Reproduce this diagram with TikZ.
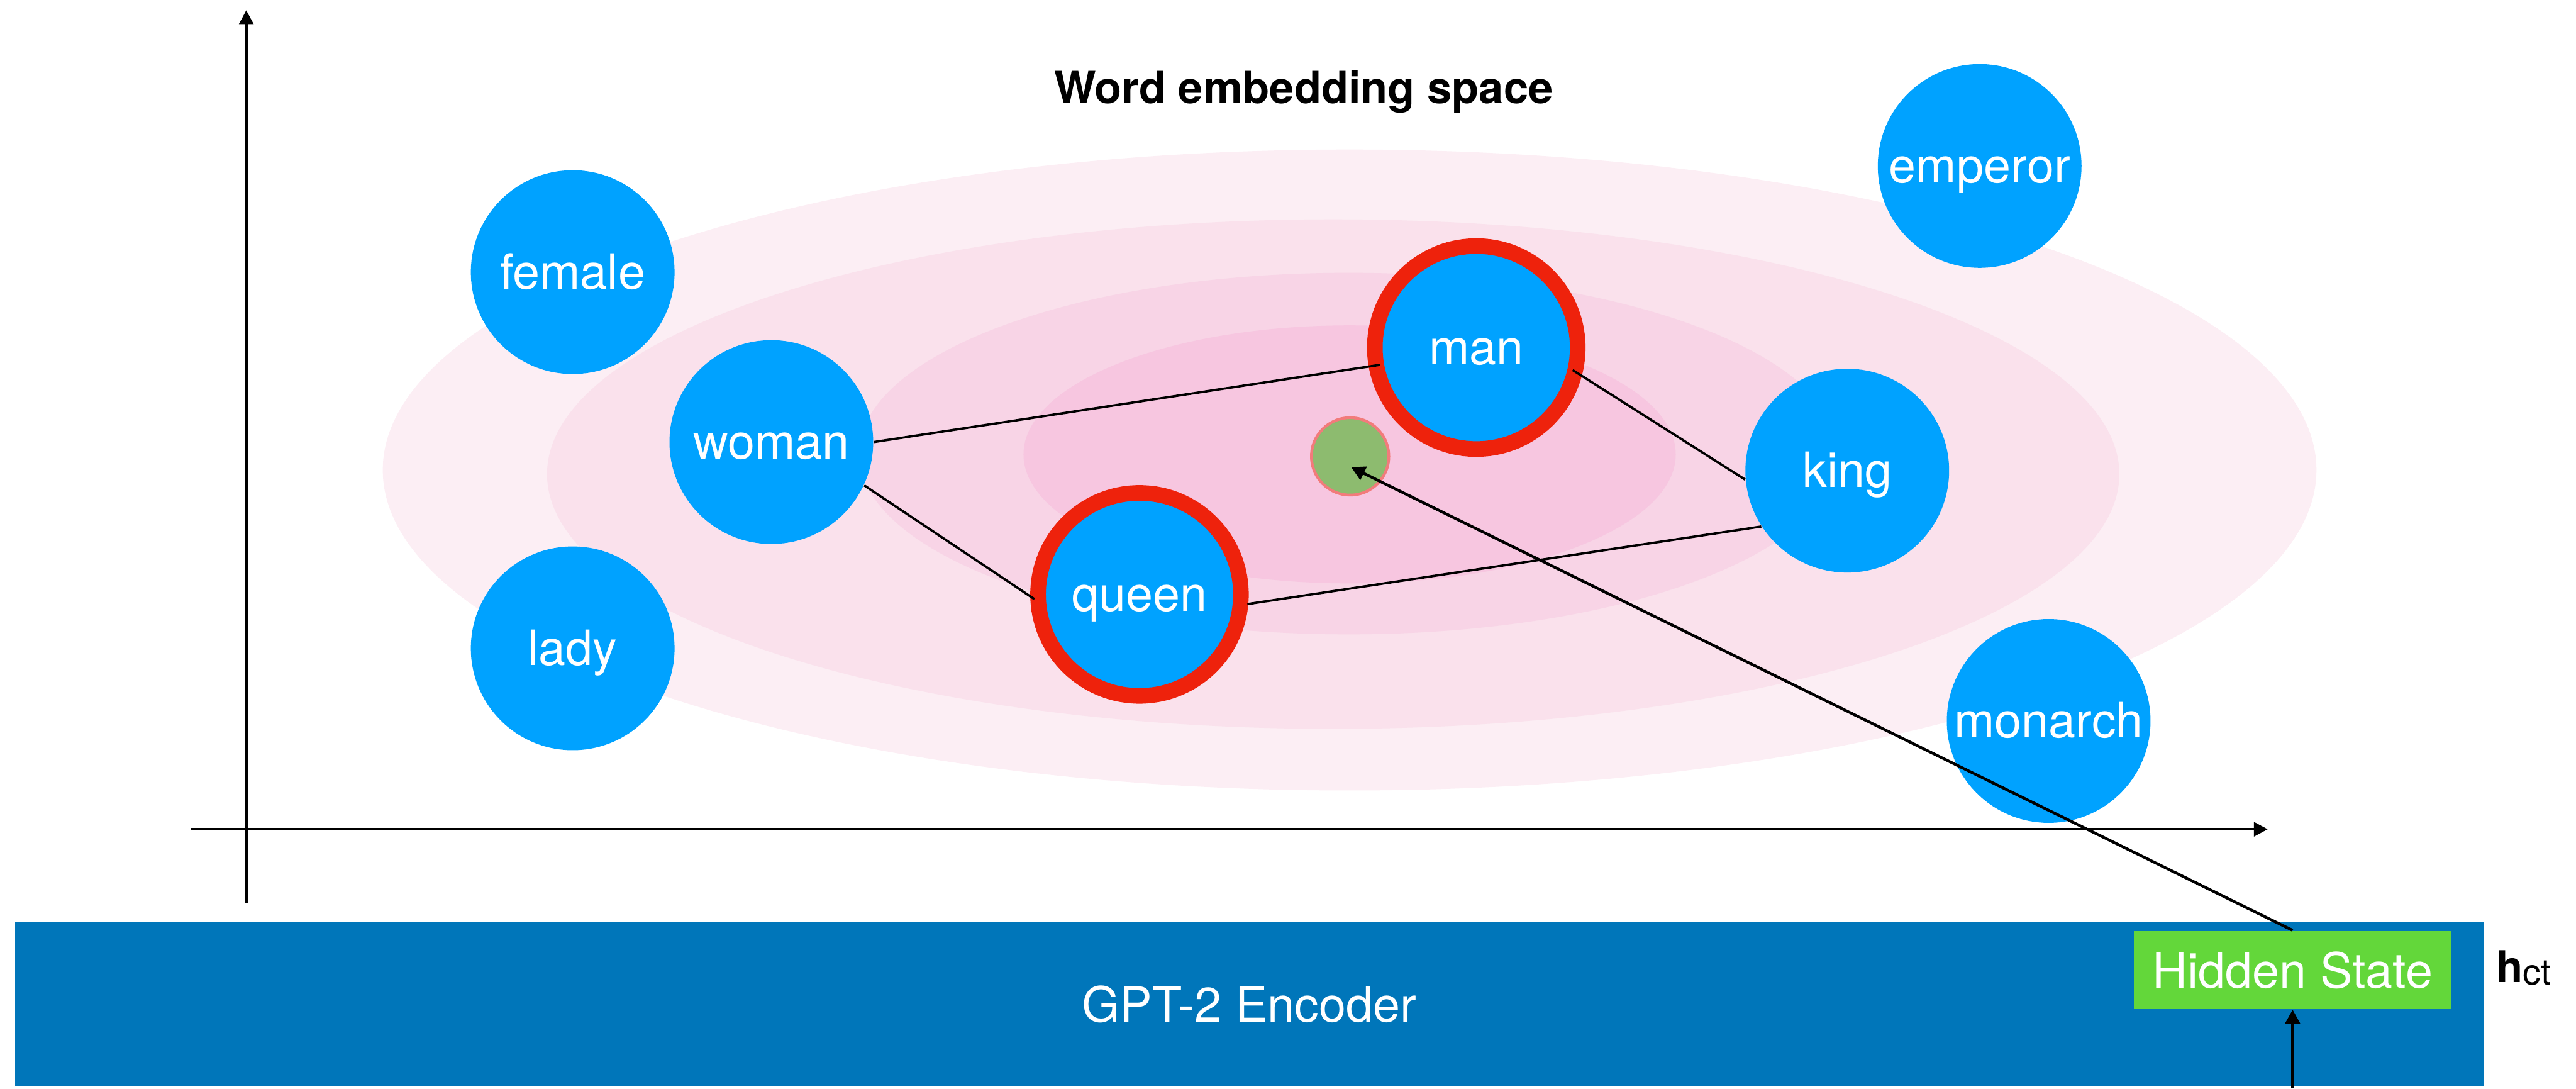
\documentclass[tikz,border=0pt]{standalone}
\usepackage{fontspec}
\setmainfont{TeX Gyre Heros}
\usetikzlibrary{arrows.meta}

\definecolor{wordblue}{RGB}{0,162,255}
\definecolor{ringred}{RGB}{238,34,12}
\definecolor{dotgreen}{RGB}{141,187,111}
\definecolor{dotrim}{RGB}{242,123,123}
\definecolor{encblue}{RGB}{0,118,186}
\definecolor{stategreen}{RGB}{99,215,58}
\definecolor{pinkA}{RGB}{252,238,244}
\definecolor{pinkB}{RGB}{250,225,236}
\definecolor{pinkC}{RGB}{248,212,230}
\definecolor{pinkD}{RGB}{247,198,224}

\tikzset{
  labelfont/.style={font=\fontsize{14.8pt}{17pt}\selectfont},
  word/.style={circle, fill=wordblue, inner sep=0pt, minimum size=62pt,
    text=white, labelfont, text height=10.2pt, text depth=0pt},
  keyword/.style={word, draw=ringred, line width=4.75pt, minimum size=61.75pt},
  link/.style={draw=black, line width=0.7pt},
  pointer/.style={draw=black, line width=0.85pt,
    -{Triangle[length=4.2pt, width=4.4pt]}},
  axis/.style={draw=black, line width=0.9pt,
    -{Triangle[length=4.25pt, width=4.25pt]}},
}

\begin{document}
\begin{tikzpicture}[x=0.5pt, y=-0.5pt]
\useasboundingbox (0,0) rectangle (1568,662.3);

% density of the embedding space
\fill[pinkA] (821.5,286) ellipse [x radius=294.25pt, y radius=97.5pt];
\fill[pinkB] (811.5,288.5) ellipse [x radius=239.25pt, y radius=77.5pt];
\fill[pinkC] (821,276) ellipse [x radius=149pt, y radius=55pt];
\fill[pinkD] (821.5,276.5) ellipse [x radius=99.25pt, y radius=39.25pt];

% axes
\coordinate (yfoot) at (149.9,549.3);
\coordinate (ytop) at (149.9,6.2);
\coordinate (xfoot) at (116.3,504.6);
\coordinate (xend) at (1380.4,504.6);
\draw[axis] (yfoot) -- (ytop);
\draw[axis] (xfoot) -- (xend);

\node[font=\fontsize{13.5pt}{16pt}\bfseries, anchor=base] (title) at (793.5,62.8) {Word embedding space};

% word vectors
\node[word] (female)  at (348.6,165.6) {female};
\node[word] (woman)   at (469.5,269)   {woman};
\node[word] (lady)    at (348.6,394.5) {lady};
\node[keyword] (queen) at (693.6,361.7) {queen};
\node[keyword] (man)   at (898.6,211.5) {man};
\node[word] (king)    at (1124.4,286.4) {king};
\node[word] (emperor) at (1205,101)    {emperor};
\node[word] (monarch) at (1247,438.7)  {monarch};

\node[circle, fill=dotgreen, draw=dotrim, line width=0.85pt,
      minimum size=23.55pt, inner sep=0pt] (dot) at (821.8,277.7) {};

% analogy parallelogram (ends reach across the red rings)
\draw[link, shorten >=-3.5pt] (woman.east) -- (man.190);
\draw[link, shorten >=-1.5pt] (woman.-25) -- (queen.181);
\draw[link, shorten <=-3.3pt] (man.-15) -- (king.185);
\draw[link, shorten <=-0.3pt] (queen.-5.5) -- (king.213);

% encoder
\node[rectangle, fill=encblue, inner sep=0pt, minimum width=751.2pt,
      minimum height=50.1pt, text=white, labelfont] (encoder) at (760.4,610.9) {GPT-2 Encoder};
\node[rectangle, fill=stategreen, inner sep=0pt, minimum width=96.5pt,
      minimum height=23.75pt, text=white, labelfont] (hs) at (1395.5,590.25) {Hidden State};
\node[anchor=base west, inner sep=0pt] (hct) at (1519,597.7)
  {{\fontsize{13.3pt}{15pt}\selectfont\bfseries h}{\fontsize{11pt}{13pt}\selectfont\raisebox{-0.8pt}{ct}}};

\coordinate (gtip) at (822.5,284.3);
\coordinate (inp) at (1395.5,662.3);
\draw[pointer] (hs.north) -- (gtip);
\draw[pointer] (inp) -- (hs.south);
\end{tikzpicture}
\end{document}
